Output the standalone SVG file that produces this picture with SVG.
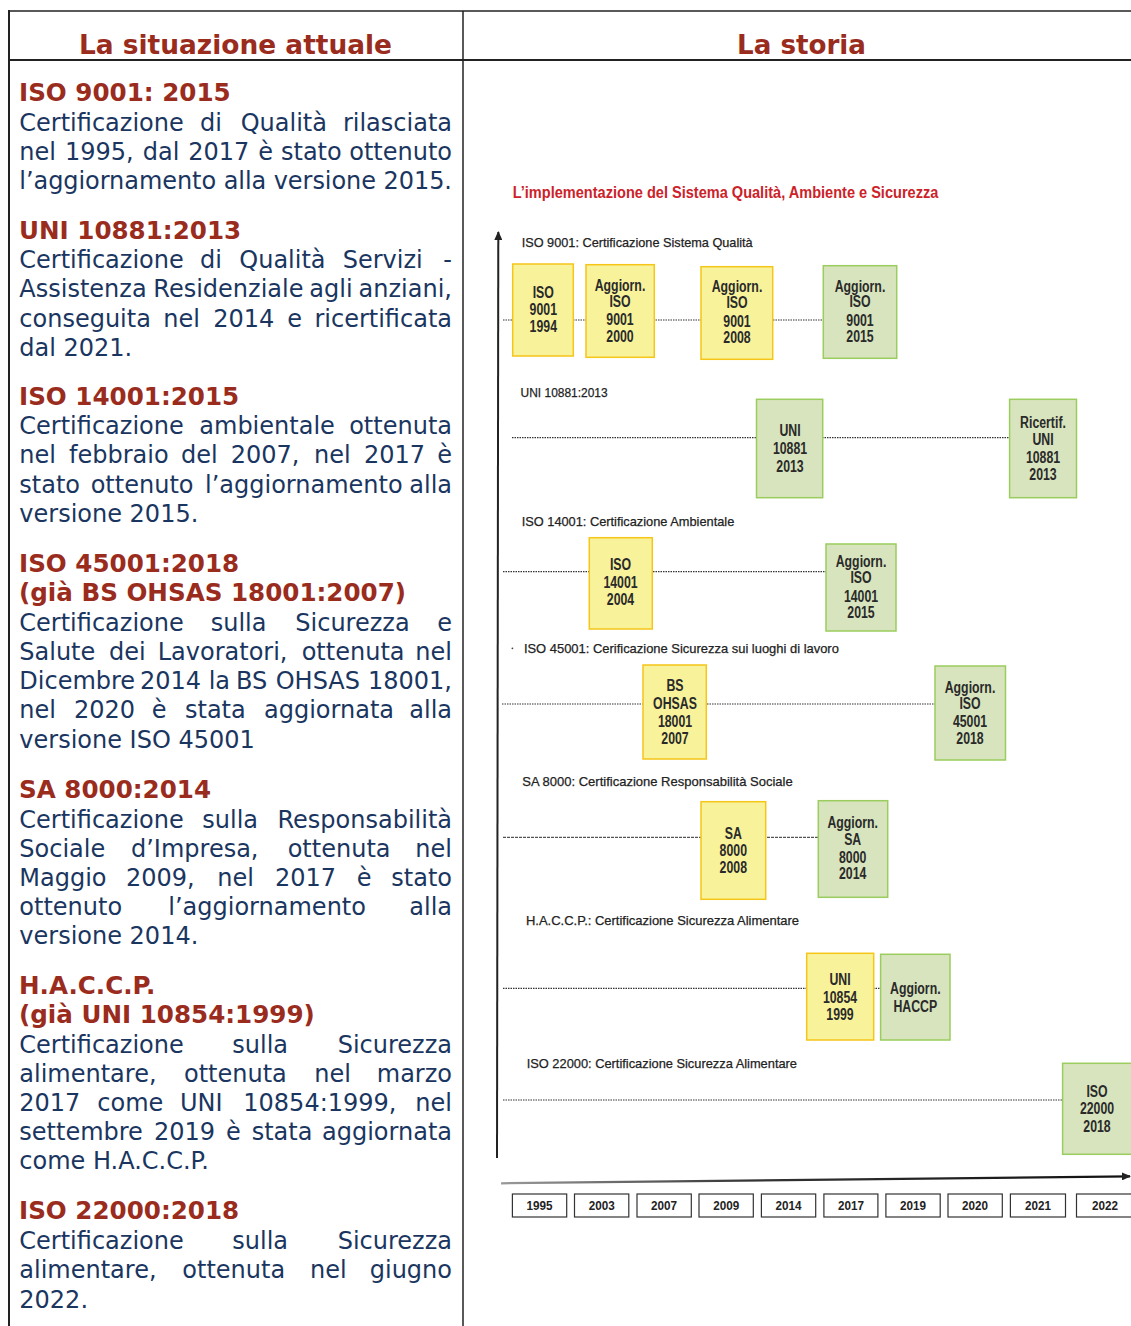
<svg xmlns="http://www.w3.org/2000/svg" width="1131" height="1326" viewBox="0 0 1131 1326">
<style>
.h{font-family:"DejaVu Sans",Verdana,sans-serif;font-weight:bold;font-size:24.6px;fill:#9a2c1e}
.b{font-family:"DejaVu Sans",Verdana,sans-serif;font-size:24px;fill:#1a3660}
.e{text-anchor:end}
.ttl{font-family:"DejaVu Sans",Verdana,sans-serif;font-weight:bold;font-size:27px;fill:#9a2c1e}
.red{font-family:"Liberation Sans",Arial,sans-serif;font-weight:bold;font-size:16px;fill:#cc2229}
.lbl{font-family:"Liberation Sans",Arial,sans-serif;font-size:13px;fill:#222;stroke:#222;stroke-width:0.25}
.yel{fill:#f8f29b;stroke:#f5c518;stroke-width:1.5}
.grn{fill:#d8e4bd;stroke:#9acd5e;stroke-width:1.5}
.bt{font-family:"Liberation Sans",Arial,sans-serif;font-weight:bold;font-size:16px;fill:#2a2a2a;text-anchor:middle}
.dot{stroke:#333;stroke-width:1.2;stroke-dasharray:1.5 1;fill:none}
.yr{fill:#fff;stroke:#333;stroke-width:1.2}
.yt{font-family:"Liberation Sans",Arial,sans-serif;font-weight:bold;font-size:13px;text-anchor:middle;fill:#222}
.frame{stroke:#222;fill:none}
</style>
<defs>
<marker id="ah" markerWidth="9" markerHeight="8" refX="8" refY="4" orient="auto" markerUnits="userSpaceOnUse"><path d="M0,0 L9,4 L0,8 z" fill="#222"/></marker>
<linearGradient id="hg" gradientUnits="userSpaceOnUse" x1="501" y1="0" x2="1131" y2="0"><stop offset="0" stop-color="#9a9a9a"/><stop offset="0.4" stop-color="#333"/><stop offset="1" stop-color="#111"/></linearGradient>
</defs>
<rect width="1131" height="1326" fill="#fff"/>
<g id="table">
<line class="frame" x1="8" y1="11" x2="1131" y2="11" stroke-width="1.5"/>
<line class="frame" x1="8" y1="60" x2="1131" y2="60" stroke-width="2"/>
<line class="frame" x1="9" y1="10" x2="9" y2="1326" stroke-width="2"/>
<line class="frame" x1="463" y1="11" x2="463" y2="1326" stroke-width="1.5"/>
<text class="ttl" x="79" y="54" textLength="313" lengthAdjust="spacingAndGlyphs">La situazione attuale</text>
<text class="ttl" x="737" y="54" textLength="129" lengthAdjust="spacingAndGlyphs">La storia</text>
</g>
<g id="left-text">
<text class="h" x="19" y="101">ISO 9001: 2015</text>
<text class="b" y="130.5"><tspan x="19.3">Certificazione</tspan><tspan x="200">di</tspan><tspan x="240.7">Qualità</tspan></text><text class="b e" x="452" y="130.5">rilasciata</text>
<text class="b" y="159.5"><tspan x="19.3">nel</tspan><tspan x="65">1995,</tspan><tspan x="142.7">dal</tspan><tspan x="188.3">2017</tspan><tspan x="258.3">è</tspan><tspan x="281">stato</tspan></text><text class="b e" x="452" y="159.5">ottenuto</text>
<text class="b" x="19.3" y="189" textLength="432.7" lengthAdjust="spacing">l’aggiornamento alla versione 2015.</text>

<text class="h" x="19" y="238.5">UNI 10881:2013</text>
<text class="b" y="267.5"><tspan x="19.3">Certificazione</tspan><tspan x="200">di</tspan><tspan x="239.3">Qualità</tspan><tspan x="342.7">Servizi</tspan></text><text class="b e" x="452" y="267.5">-</text>
<text class="b" y="297"><tspan x="19.3">Assistenza</tspan><tspan x="153.3">Residenziale</tspan><tspan x="309.3">agli</tspan></text><text class="b e" x="452" y="297">anziani,</text>
<text class="b" y="326.5"><tspan x="19.3">conseguita</tspan><tspan x="163.3">nel</tspan><tspan x="213.3">2014</tspan><tspan x="287.3">e</tspan></text><text class="b e" x="452" y="326.5">ricertificata</text>
<text class="b" x="19.3" y="355.5">dal 2021.</text>

<text class="h" x="19" y="405">ISO 14001:2015</text>
<text class="b" y="434.3"><tspan x="19.3">Certificazione</tspan><tspan x="199.3">ambientale</tspan></text><text class="b e" x="452" y="434.3">ottenuta</text>
<text class="b" y="463.3"><tspan x="19.3">nel</tspan><tspan x="69">febbraio</tspan><tspan x="181">del</tspan><tspan x="230.7">2007,</tspan><tspan x="314">nel</tspan><tspan x="364">2017</tspan></text><text class="b e" x="452" y="463.3">è</text>
<text class="b" y="492.7"><tspan x="19.3">stato</tspan><tspan x="90.7">ottenuto</tspan><tspan x="205">l’aggiornamento</tspan></text><text class="b e" x="452" y="492.7">alla</text>
<text class="b" x="19.3" y="521.7">versione 2015.</text>

<text class="h" x="19" y="571.7">ISO 45001:2018</text>
<text class="h" x="19" y="601">(già BS OHSAS 18001:2007)</text>
<text class="b" y="631"><tspan x="19.3">Certificazione</tspan><tspan x="210.7">sulla</tspan><tspan x="295.3">Sicurezza</tspan></text><text class="b e" x="452" y="631">e</text>
<text class="b" y="660"><tspan x="19.3">Salute</tspan><tspan x="109">dei</tspan><tspan x="157.7">Lavoratori,</tspan><tspan x="301.7">ottenuta</tspan></text><text class="b e" x="452" y="660">nel</text>
<text class="b" y="689.3"><tspan x="19.3">Dicembre</tspan><tspan x="140">2014</tspan><tspan x="208.7">la</tspan><tspan x="236">BS</tspan><tspan x="275.7">OHSAS</tspan></text><text class="b e" x="452" y="689.3">18001,</text>
<text class="b" y="718.3"><tspan x="19.3">nel</tspan><tspan x="74">2020</tspan><tspan x="151.7">è</tspan><tspan x="185">stata</tspan><tspan x="264">aggiornata</tspan></text><text class="b e" x="452" y="718.3">alla</text>
<text class="b" x="19.3" y="747.7">versione ISO 45001</text>

<text class="h" x="19" y="798.3">SA 8000:2014</text>
<text class="b" y="828.3"><tspan x="19.3">Certificazione</tspan><tspan x="202.3">sulla</tspan></text><text class="b e" x="452" y="828.3">Responsabilità</text>
<text class="b" y="857.3"><tspan x="19.3">Sociale</tspan><tspan x="131">d’Impresa,</tspan><tspan x="287.7">ottenuta</tspan></text><text class="b e" x="452" y="857.3">nel</text>
<text class="b" y="886.3"><tspan x="19.3">Maggio</tspan><tspan x="126">2009,</tspan><tspan x="217.3">nel</tspan><tspan x="275">2017</tspan><tspan x="356.7">è</tspan></text><text class="b e" x="452" y="886.3">stato</text>
<text class="b" y="915.3"><tspan x="19.3">ottenuto</tspan><tspan x="168.3">l’aggiornamento</tspan></text><text class="b e" x="452" y="915.3">alla</text>
<text class="b" x="19.3" y="944.3">versione 2014.</text>

<text class="h" x="19" y="994.3">H.A.C.C.P.</text>
<text class="h" x="19" y="1023.3">(già UNI 10854:1999)</text>
<text class="b" y="1052.7"><tspan x="19.3">Certificazione</tspan><tspan x="232.3">sulla</tspan></text><text class="b e" x="452" y="1052.7">Sicurezza</text>
<text class="b" y="1081.7"><tspan x="19.3">alimentare,</tspan><tspan x="184">ottenuta</tspan><tspan x="314.3">nel</tspan></text><text class="b e" x="452" y="1081.7">marzo</text>
<text class="b" y="1111"><tspan x="19.3">2017</tspan><tspan x="97.3">come</tspan><tspan x="180">UNI</tspan><tspan x="243.3">10854:1999,</tspan></text><text class="b e" x="452" y="1111">nel</text>
<text class="b" y="1140"><tspan x="19.3">settembre</tspan><tspan x="154">2019</tspan><tspan x="226">è</tspan><tspan x="251.7">stata</tspan></text><text class="b e" x="452" y="1140">aggiornata</text>
<text class="b" x="19.3" y="1169.3">come H.A.C.C.P.</text>

<text class="h" x="19" y="1219.3">ISO 22000:2018</text>
<text class="b" y="1249.3"><tspan x="19.3">Certificazione</tspan><tspan x="232.3">sulla</tspan></text><text class="b e" x="452" y="1249.3">Sicurezza</text>
<text class="b" y="1278.3"><tspan x="19.3">alimentare,</tspan><tspan x="182.3">ottenuta</tspan><tspan x="310">nel</tspan></text><text class="b e" x="452" y="1278.3">giugno</text>
<text class="b" x="19.3" y="1307.7">2022.</text>
</g>

<g id="right-labels">
<text class="red" x="512.7" y="198.3" textLength="425.6" lengthAdjust="spacingAndGlyphs">L’implementazione del Sistema Qualità, Ambiente e Sicurezza</text>
<text class="lbl" x="521.7" y="247.3" textLength="231" lengthAdjust="spacingAndGlyphs">ISO 9001: Certificazione  Sistema Qualità</text>
<text class="lbl" x="520.6" y="396.7" textLength="87" lengthAdjust="spacingAndGlyphs">UNI 10881:2013</text>
<text class="lbl" x="521.7" y="526" textLength="212.6" lengthAdjust="spacingAndGlyphs">ISO 14001:  Certificazione  Ambientale</text>
<circle cx="512.4" cy="648.3" r="0.9" fill="#444"/>
<text class="lbl" x="523.9" y="652.7" textLength="315" lengthAdjust="spacingAndGlyphs">ISO 45001:  Cerificazione Sicurezza sui luoghi di lavoro</text>
<text class="lbl" x="522.3" y="785.7" textLength="270.4" lengthAdjust="spacingAndGlyphs">SA 8000: Certificazione  Responsabilità Sociale</text>
<text class="lbl" x="526" y="925" textLength="273" lengthAdjust="spacingAndGlyphs">H.A.C.C.P.: Certificazione  Sicurezza Alimentare</text>
<text class="lbl" x="526.7" y="1068.3" textLength="270.3" lengthAdjust="spacingAndGlyphs">ISO 22000: Certificazione Sicurezza Alimentare</text>
</g>

<g id="connectors">
<line x1="497" y1="1158" x2="498.3" y2="232" stroke="#222" stroke-width="2" marker-end="url(#ah)"/>
<line x1="501" y1="1183.3" x2="1130" y2="1176.3" stroke="url(#hg)" stroke-width="2.2" marker-end="url(#ah)"/>
<line class="dot" x1="503" y1="320" x2="823" y2="320"/>
<line class="dot" x1="512" y1="437.7" x2="1010" y2="437.7"/>
<line class="dot" x1="503" y1="571.7" x2="826" y2="571.7"/>
<line class="dot" x1="502" y1="704" x2="935" y2="704"/>
<line class="dot" x1="503" y1="837.3" x2="818" y2="837.3" style="stroke-dasharray:3 1;stroke:#555"/>
<line class="dot" x1="503" y1="988.3" x2="881" y2="988.3"/>
<line class="dot" x1="503" y1="1100" x2="1063" y2="1100"/>
</g>

<g id="iso9001-1994"><rect class="yel" x="512.7" y="264" width="60.6" height="92"/><g transform="translate(543.3,0) scale(0.77,1)"><text class="bt" x="0" y="298.3">ISO</text><text class="bt" x="0" y="315">9001</text><text class="bt" x="0" y="332">1994</text></g></g>
<g id="iso9001-2000"><rect class="yel" x="586" y="264.7" width="68.3" height="92.6"/><g transform="translate(620,0) scale(0.77,1)"><text class="bt" x="0" y="290.7">Aggiorn.</text><text class="bt" x="0" y="306.7">ISO</text><text class="bt" x="0" y="325">9001</text><text class="bt" x="0" y="341.7">2000</text></g></g>
<g id="iso9001-2008"><rect class="yel" x="701" y="266.7" width="71.7" height="92.6"/><g transform="translate(737,0) scale(0.77,1)"><text class="bt" x="0" y="292.3">Aggiorn.</text><text class="bt" x="0" y="308.3">ISO</text><text class="bt" x="0" y="326.7">9001</text><text class="bt" x="0" y="343.3">2008</text></g></g>
<g id="iso9001-2015"><rect class="grn" x="823.3" y="265.7" width="73.4" height="92.6"/><g transform="translate(860,0) scale(0.77,1)"><text class="bt" x="0" y="291.7">Aggiorn.</text><text class="bt" x="0" y="307.3">ISO</text><text class="bt" x="0" y="326">9001</text><text class="bt" x="0" y="341.7">2015</text></g></g>

<g id="uni10881-2013"><rect class="grn" x="756.5" y="399.3" width="66.2" height="98.4"/><g transform="translate(790,0) scale(0.77,1)"><text class="bt" x="0" y="436.5">UNI</text><text class="bt" x="0" y="454.5">10881</text><text class="bt" x="0" y="472">2013</text></g></g>
<g id="uni10881-ricert"><rect class="grn" x="1009.6" y="399.3" width="66.9" height="98.4"/><g transform="translate(1043,0) scale(0.77,1)"><text class="bt" x="0" y="428.3">Ricertif.</text><text class="bt" x="0" y="445">UNI</text><text class="bt" x="0" y="463.3">10881</text><text class="bt" x="0" y="480">2013</text></g></g>

<g id="iso14001-2004"><rect class="yel" x="589.3" y="537.7" width="63" height="91.3"/><g transform="translate(620.5,0) scale(0.77,1)"><text class="bt" x="0" y="570">ISO</text><text class="bt" x="0" y="588.3">14001</text><text class="bt" x="0" y="605">2004</text></g></g>
<g id="iso14001-2015"><rect class="grn" x="826" y="544" width="70" height="87"/><g transform="translate(861,0) scale(0.77,1)"><text class="bt" x="0" y="566.7">Aggiorn.</text><text class="bt" x="0" y="583.3">ISO</text><text class="bt" x="0" y="601.7">14001</text><text class="bt" x="0" y="618.3">2015</text></g></g>

<g id="bsohsas-2007"><rect class="yel" x="643" y="665" width="63.3" height="94"/><g transform="translate(675,0) scale(0.77,1)"><text class="bt" x="0" y="691">BS</text><text class="bt" x="0" y="709">OHSAS</text><text class="bt" x="0" y="726.7">18001</text><text class="bt" x="0" y="744">2007</text></g></g>
<g id="iso45001-2018"><rect class="grn" x="935" y="666" width="70.5" height="94"/><g transform="translate(970,0) scale(0.77,1)"><text class="bt" x="0" y="693.3">Aggiorn.</text><text class="bt" x="0" y="709.5">ISO</text><text class="bt" x="0" y="727">45001</text><text class="bt" x="0" y="744">2018</text></g></g>

<g id="sa8000-2008"><rect class="yel" x="701" y="801.7" width="64.7" height="97.6"/><g transform="translate(733.3,0) scale(0.77,1)"><text class="bt" x="0" y="839.3">SA</text><text class="bt" x="0" y="856">8000</text><text class="bt" x="0" y="872.7">2008</text></g></g>
<g id="sa8000-2014"><rect class="grn" x="818.3" y="800.7" width="69.4" height="96.6"/><g transform="translate(852.7,0) scale(0.77,1)"><text class="bt" x="0" y="828.3">Aggiorn.</text><text class="bt" x="0" y="845">SA</text><text class="bt" x="0" y="862.7">8000</text><text class="bt" x="0" y="879.3">2014</text></g></g>

<g id="uni10854-1999"><rect class="yel" x="806.7" y="953.3" width="67" height="86.7"/><g transform="translate(840,0) scale(0.77,1)"><text class="bt" x="0" y="985">UNI</text><text class="bt" x="0" y="1002.7">10854</text><text class="bt" x="0" y="1020">1999</text></g></g>
<g id="haccp"><rect class="grn" x="880.6" y="954.3" width="69.4" height="85.7"/><g transform="translate(915.3,0) scale(0.77,1)"><text class="bt" x="0" y="994.3">Aggiorn.</text><text class="bt" x="0" y="1011.7">HACCP</text></g></g>

<g id="iso22000-2018"><rect class="grn" x="1062.6" y="1063.3" width="80" height="91"/><g transform="translate(1097,0) scale(0.77,1)"><text class="bt" x="0" y="1096.7">ISO</text><text class="bt" x="0" y="1114.3">22000</text><text class="bt" x="0" y="1131.7">2018</text></g></g>

<g id="years">
<rect class="yr" x="512.4" y="1194" width="54.3" height="23"/><text class="yt" x="539.5" y="1210" textLength="26" lengthAdjust="spacingAndGlyphs">1995</text>
<rect class="yr" x="574.5" y="1194" width="54.3" height="23"/><text class="yt" x="601.7" y="1210" textLength="26" lengthAdjust="spacingAndGlyphs">2003</text>
<rect class="yr" x="637" y="1194" width="54.3" height="23"/><text class="yt" x="664.1" y="1210" textLength="26" lengthAdjust="spacingAndGlyphs">2007</text>
<rect class="yr" x="699" y="1194" width="54.3" height="23"/><text class="yt" x="726.2" y="1210" textLength="26" lengthAdjust="spacingAndGlyphs">2009</text>
<rect class="yr" x="761.4" y="1194" width="54.3" height="23"/><text class="yt" x="788.6" y="1210" textLength="26" lengthAdjust="spacingAndGlyphs">2014</text>
<rect class="yr" x="823.9" y="1194" width="54" height="23"/><text class="yt" x="850.9" y="1210" textLength="26" lengthAdjust="spacingAndGlyphs">2017</text>
<rect class="yr" x="885.9" y="1194" width="54.3" height="23"/><text class="yt" x="913" y="1210" textLength="26" lengthAdjust="spacingAndGlyphs">2019</text>
<rect class="yr" x="948" y="1194" width="54.3" height="23"/><text class="yt" x="975.1" y="1210" textLength="26" lengthAdjust="spacingAndGlyphs">2020</text>
<rect class="yr" x="1010.4" y="1194" width="55.1" height="23"/><text class="yt" x="1038" y="1210" textLength="26" lengthAdjust="spacingAndGlyphs">2021</text>
<rect class="yr" x="1076.5" y="1194" width="60" height="23"/><text class="yt" x="1105" y="1210" textLength="26" lengthAdjust="spacingAndGlyphs">2022</text>
</g>
</svg>
